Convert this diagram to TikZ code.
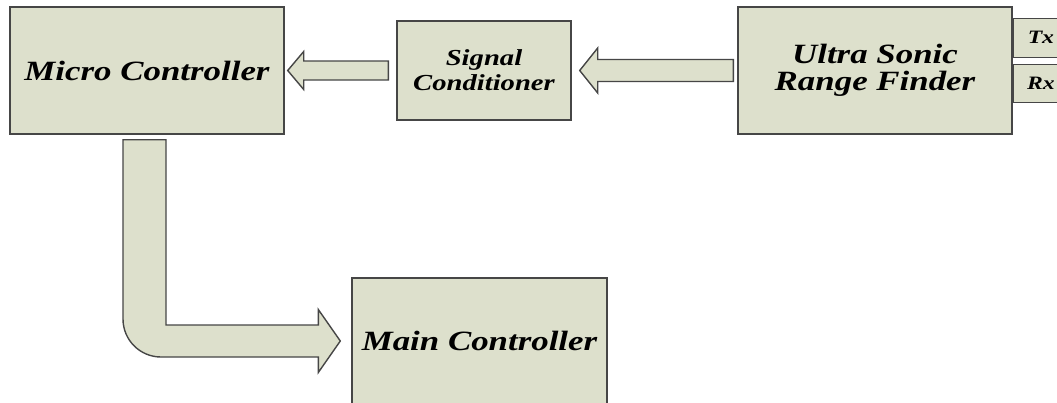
\documentclass[tikz,border=0pt]{standalone}
\usepackage{fontspec}
\setmainfont{Liberation Serif}
\newfontfamily\blockfont{Liberation Serif}[FakeStretch=1.25]
\usetikzlibrary{calc}
\definecolor{boxfill}{RGB}{221,224,204}
\definecolor{boxline}{RGB}{70,70,70}
\tikzset{
  unit/.style={rectangle, draw=boxline, fill=boxfill, line width=1.4bp,
    inner sep=0pt, align=center, text=black},
  bigtext/.style={font=\blockfont\bfseries\itshape\fontsize{28}{27}\selectfont},
  midtext/.style={font=\blockfont\bfseries\itshape\fontsize{23}{25}\selectfont},
  smalltext/.style={font=\blockfont\bfseries\itshape\fontsize{19}{19}\selectfont},
  blockarrow/.style={draw=boxline, fill=boxfill, line width=1.4bp, line join=miter},
}
\begin{document}
\begin{tikzpicture}[x=1bp, y=1bp]
  \useasboundingbox (0,0) rectangle (1057,402);
  \clip (0,0) rectangle (1057,402);
  \fill[white] (0,0) rectangle (1057,402);

  % processing blocks
  \node[unit, bigtext, minimum width=274bp, minimum height=127bp] (mc) at (147,331.5) {Micro Controller};
  \node[unit, midtext, minimum width=174bp, minimum height=99bp] (sc) at (484,331.5) {Signal\\Conditioner};
  \node[unit, bigtext, minimum width=274bp, minimum height=127bp] (us) at (875,331.5) {Ultra Sonic\\Range Finder};
  \node[unit, smalltext, minimum width=58bp, minimum height=39bp, anchor=south west] (tx) at ($(us.east)+(0,12.5)$) {\hspace*{-3bp}Tx};
  \node[unit, smalltext, minimum width=58bp, minimum height=38bp, anchor=north west] (rx) at ($(us.east)+(0,6.5)$) {\hspace*{-3bp}Rx};
  \node[unit, bigtext, minimum width=255bp, minimum height=126bp] (main) at (479.5,61) {Main Controller};

  % range finder -> signal conditioner
  \coordinate (b1) at ($(sc.east)+(8,0)$);
  \coordinate (b2) at ($(us.west)+(-4,0)$);
  \draw[blockarrow] (b1) -- ++(18,22.5) -- ++(0,-11.5) -- ($(b2)+(0,11)$)
    -- ($(b2)+(0,-11)$) -- ($(b1)+(18,-11)$) -- ++(0,-11.5) -- cycle;

  % signal conditioner -> micro controller
  \coordinate (a1) at ($(mc.east)+(3,0)$);
  \coordinate (a2) at ($(sc.west)+(-8,0)$);
  \draw[blockarrow] (a1) -- ++(16,19) -- ++(0,-9.5) -- ($(a2)+(0,9.5)$)
    -- ($(a2)+(0,-9.5)$) -- ($(a1)+(16,-9.5)$) -- ++(0,-9.5) -- cycle;

  % micro controller -> main controller (bent arrow)
  \coordinate (ctip) at ($(main.west)+(-11,0)$);
  \coordinate (c0) at ($(mc.south)+(-24,-5)$);
  \coordinate (c1) at ($(mc.south)+(19,-5)$);
  \draw[blockarrow] (c0) -- ($(c0 |- ctip)+(0,22)$)
    arc[start angle=180, end angle=270, radius=38]
    -- ($(ctip)+(-22,-16)$) -- ($(ctip)+(-22,-31.5)$) -- (ctip)
    -- ($(ctip)+(-22,31.5)$) -- ($(ctip)+(-22,16)$)
    -- ($(c1 |- ctip)+(0,16)$) -- (c1) -- cycle;
\end{tikzpicture}
\end{document}
